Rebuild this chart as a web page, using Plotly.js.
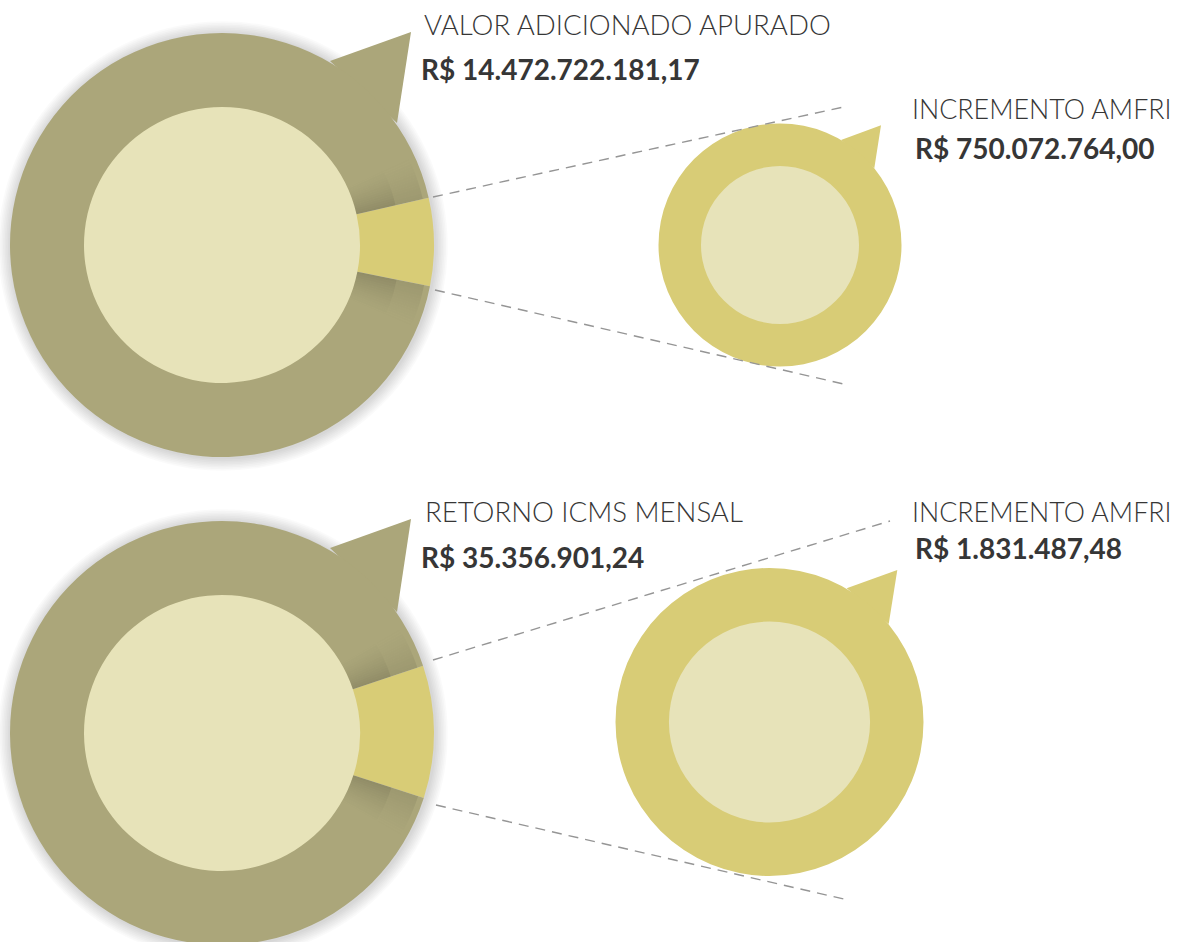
<!DOCTYPE html>
<html>
<head>
<meta charset="utf-8">
<script src="https://cdn.plot.ly/plotly-3.0.1.min.js"></script>
<style>
html,body{margin:0;padding:0;overflow:hidden;background:#ffffff;}
#chart{width:1177px;height:950px;}
</style>
</head>
<body>
<div id="chart"></div>
<script>
// ---------- data ----------
const totalLabels = ['VALOR ADICIONADO APURADO', 'RETORNO ICMS MENSAL'];
const totalValues = ['R$ 14.472.722.181,17', 'R$ 35.356.901,24'];
const incrementLabels = ['INCREMENTO AMFRI', 'INCREMENTO AMFRI'];
const incrementValues = ['R$ 750.072.764,00', 'R$ 1.831.487,48'];
const wedgeShare = [6.7, 10.1];          // share of ring drawn as the increment wedge (%)
const sliceNames = ['Incremento AMFRI', 'Restante'];

// ---------- layout geometry (pixels) ----------
const W = 1177, H = 950;
const OLIVE = '#aba67a', YELLOW = '#d8cc76', INNER = '#e7e3b9';
const TXT = '#363636', DASH = '#959595';

const big = [
  {cx:222, cy:245, r:212, rIn:138, rot:77.1, tail:[[108,-184],[189,-213],[175,-122]]},
  {cx:222, cy:733, r:212, rIn:138, rot:71.5, tail:[[108,-185],[189,-214],[175,-121]]}
];
const small = [
  {cx:780, cy:245, r:121.5, rIn:79, tail:[[61,-105],[101,-119.7],[94.3,-76.7]]},
  {cx:769.5, cy:722, r:154, rIn:100.5, tail:[[77.2,-133.7],[127.8,-152],[119.2,-98]]}
];
const dashes = [
  [[433,197],[848,106]], [[435,290],[848,385]],
  [[433,660],[890,521]], [[436,805],[848,900]]
];
const labelPos = [
  {tx:424, ty:25, vx:421, vy:70, ix:912, iy:110, jx:915, jy:149},
  {tx:425, ty:512.5, vx:421, vy:558, ix:912, iy:513, jx:915, jy:548.5}
];

const px = x => x / W;
const py = y => 1 - y / H;

function circleShape(cx, cy, r, color, layer, opacity) {
  return {type:'circle', xref:'paper', yref:'paper', layer:layer,
    x0:px(cx-r), x1:px(cx+r), y0:py(cy+r), y1:py(cy-r),
    fillcolor:color, opacity:opacity===undefined?1:opacity, line:{width:0}};
}
function tailShape(c, color) {
  const pts = c.tail.map(p => [px(c.cx+p[0]), py(c.cy+p[1])]);
  return {type:'path', xref:'paper', yref:'paper', layer:'below',
    path:'M' + pts.map(p => p[0]+','+p[1]).join(' L') + ' Z',
    fillcolor:color, line:{width:0}};
}
function sectorPath(cx, cy, r0, r1, a0, a1) {
  const n = 8, pts = [];
  for (let i = 0; i <= n; i++) {
    const a = (a0 + (a1-a0)*i/n) * Math.PI/180;
    pts.push([cx + r1*Math.sin(a), cy - r1*Math.cos(a)]);
  }
  for (let i = n; i >= 0; i--) {
    const a = (a0 + (a1-a0)*i/n) * Math.PI/180;
    pts.push([cx + r0*Math.sin(a), cy - r0*Math.cos(a)]);
  }
  return 'M' + pts.map(p => px(p[0])+','+py(p[1])).join(' L') + ' Z';
}

const shapes = [];
const traces = [];
const annotations = [];

// soft drop shadow around big circles
big.forEach(c => {
  for (let k = 1; k <= 8; k++) shapes.push(circleShape(c.cx+1, c.cy+1, c.r + k*1.6, '#000000', 'below', 0.02));
});
// tails
big.forEach(c => shapes.push(tailShape(c, OLIVE)));
small.forEach(c => shapes.push(tailShape(c, YELLOW)));
// inner fills (seen through the donut holes)
big.forEach(c => shapes.push(circleShape(c.cx, c.cy, c.rIn+1.5, INNER, 'below')));
small.forEach(c => shapes.push(circleShape(c.cx, c.cy, c.rIn+1.5, INNER, 'below')));

// big donuts: increment wedge + remainder
big.forEach((c, i) => {
  traces.push({
    type:'pie', values:[wedgeShare[i], 100 - wedgeShare[i]], labels:sliceNames,
    sort:false, direction:'clockwise', rotation:c.rot, hole:c.rIn/c.r,
    marker:{colors:[YELLOW, OLIVE], line:{width:0}},
    textinfo:'none', hoverinfo:'label+percent', showlegend:false,
    domain:{x:[px(c.cx-c.r), px(c.cx+c.r)], y:[py(c.cy+c.r), py(c.cy-c.r)]}
  });
  // soft shading cast by the wedge onto the ring (fine bands, inner and outer parts)
  const a0 = c.rot, a1 = c.rot + wedgeShare[i]*3.6;
  const nb = 16, step = 0.8;
  for (let k = 0; k < nb; k++) {
    const f = Math.pow(1 - k/nb, 1.6);
    [[c.rIn, c.rIn + 40, 0.15], [c.rIn + 40, c.r - 6, 0.08]].forEach(rr => {
      const o = rr[2] * f;
      shapes.push({type:'path', xref:'paper', yref:'paper', layer:'above',
        path:sectorPath(c.cx, c.cy, rr[0], rr[1], a0 - step*(k+1), a0 - step*k),
        fillcolor:'#000000', opacity:o, line:{width:0}});
      shapes.push({type:'path', xref:'paper', yref:'paper', layer:'above',
        path:sectorPath(c.cx, c.cy, rr[0], rr[1], a1 + step*k, a1 + step*(k+1)),
        fillcolor:'#000000', opacity:o, line:{width:0}});
    });
  }
});

// small donuts: the increment alone
small.forEach((c, i) => {
  traces.push({
    type:'pie', values:[wedgeShare[i]], labels:[sliceNames[0]],
    sort:false, hole:c.rIn/c.r,
    marker:{colors:[YELLOW], line:{width:0}},
    textinfo:'none', hoverinfo:'label', showlegend:false,
    domain:{x:[px(c.cx-c.r), px(c.cx+c.r)], y:[py(c.cy+c.r), py(c.cy-c.r)]}
  });
});

// dashed connector lines
dashes.forEach(d => shapes.push({type:'line', xref:'paper', yref:'paper', layer:'above',
  x0:px(d[0][0]), y0:py(d[0][1]), x1:px(d[1][0]), y1:py(d[1][1]),
  line:{color:DASH, width:1.4, dash:'10px,7px'}}));

// texts
function ann(text, x, y, size, weight) {
  annotations.push({text:text, xref:'paper', yref:'paper', x:px(x-2), y:py(y-1),
    xanchor:'left', yanchor:'middle', showarrow:false,
    font:{family:'Lato, "Open Sans", sans-serif', size:size, color:TXT, weight:weight}});
}
labelPos.forEach((p, i) => {
  ann(totalLabels[i], p.tx, p.ty, 27.6, 300);
  ann('<b>' + totalValues[i] + '</b>', p.vx, p.vy, 28, 700);
  ann(incrementLabels[i], p.ix, p.iy, 26.8, 300);
  ann('<b>' + incrementValues[i] + '</b>', p.jx, p.jy, 28, 700);
});

const layout = {
  width:W, height:H, margin:{l:0, r:0, t:0, b:0},
  paper_bgcolor:'#ffffff', plot_bgcolor:'#ffffff',
  showlegend:false, shapes:shapes, annotations:annotations
};
Plotly.newPlot('chart', traces, layout, {displayModeBar:false, staticPlot:true});
</script>
</body>
</html>
